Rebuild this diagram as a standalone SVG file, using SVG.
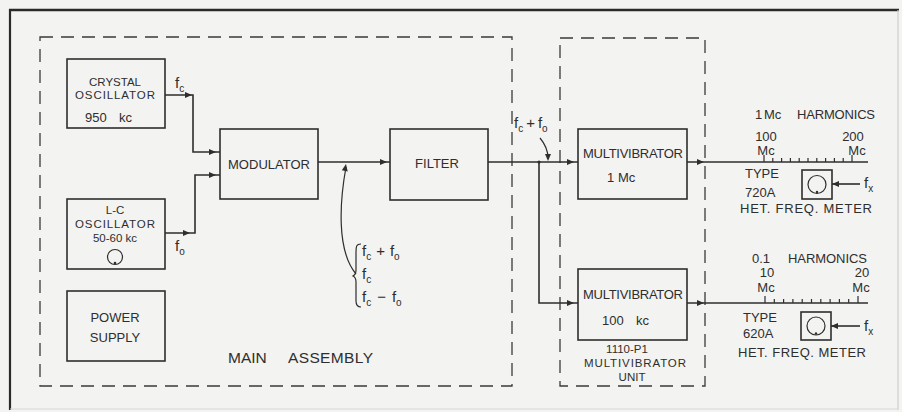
<svg xmlns="http://www.w3.org/2000/svg" width="902" height="412" viewBox="0 0 902 412">
<style>
  .bg{fill:#f3f3f1}
  .box{fill:none;stroke:#2e2e2e;stroke-width:1.6}
  .dash{fill:none;stroke:#3a3a3a;stroke-width:1.3;stroke-dasharray:13 8}
  .ln{fill:none;stroke:#2e2e2e;stroke-width:1.6}
  .thin{fill:none;stroke:#2e2e2e;stroke-width:1.2}
  text{font-family:"Liberation Sans",Arial,sans-serif;fill:#2e2e2e;font-size:13px}
  .sm{font-size:11.5px}
  .big{font-size:15.5px}
  .f{font-size:15px}
  .s{font-size:10px}
  .ah{fill:#2e2e2e}
</style>
<defs>
  <path id="ar" d="M0,0 L-7,-3 L-7,3 Z"/>
</defs>
<rect class="bg" x="0" y="0" width="902" height="412"/>
<!-- outer frame -->
<line x1="9" y1="10" x2="899" y2="10" stroke="#2a2a2a" stroke-width="2.6"/>
<line x1="10" y1="9" x2="10" y2="410" stroke="#2a2a2a" stroke-width="2.2"/>
<line x1="898" y1="10" x2="898" y2="410" stroke="#cfcfcf" stroke-width="1.2"/>
<line x1="10" y1="409" x2="898" y2="409" stroke="#d8d8d8" stroke-width="1.2"/>

<g id="main-assembly">
  <rect class="dash" x="40" y="37" width="472" height="349"/>
  <text class="big" x="228" y="363">MAIN</text>
  <text class="big" x="288" y="363" textLength="85">ASSEMBLY</text>
</g>
<g id="multivibrator-unit">
  <rect class="dash" x="560" y="38" width="145" height="348"/>
  <text class="sm" x="627" y="353" text-anchor="middle">1110-P1</text>
  <text class="sm" x="635" y="367" text-anchor="middle" textLength="102">MULTIVIBRATOR</text>
  <text class="sm" x="632" y="381" text-anchor="middle">UNIT</text>
</g>

<g id="crystal-oscillator">
  <rect class="box" x="67" y="59" width="98" height="69"/>
  <text class="sm" x="115" y="86" text-anchor="middle">CRYSTAL</text>
  <text class="sm" x="115" y="99" text-anchor="middle" textLength="80">OSCILLATOR</text>
  <text x="85" y="122">950</text>
  <text x="119" y="122">kc</text>
</g>
<g id="lc-oscillator">
  <rect class="box" x="67" y="199" width="98" height="70"/>
  <text class="sm" x="115" y="214" text-anchor="middle">L-C</text>
  <text class="sm" x="115" y="228" text-anchor="middle" textLength="80">OSCILLATOR</text>
  <text class="sm" x="115" y="242" text-anchor="middle">50-60 kc</text>
  <circle class="thin" cx="115" cy="257" r="7.5"/>
  <circle cx="115" cy="263" r="1.3" fill="#2e2e2e"/>
</g>
<g id="power-supply">
  <rect class="box" x="67" y="291" width="98" height="70"/>
  <text x="115" y="322" text-anchor="middle">POWER</text>
  <text x="115" y="342" text-anchor="middle">SUPPLY</text>
</g>
<g id="modulator">
  <rect class="box" x="220" y="129" width="98" height="70"/>
  <text x="269" y="169" text-anchor="middle" textLength="82">MODULATOR</text>
</g>
<g id="filter">
  <rect class="box" x="390" y="129" width="98" height="71"/>
  <text x="437" y="168" text-anchor="middle">FILTER</text>
</g>
<g id="multivibrator-1mc">
  <rect class="box" x="578" y="129" width="109" height="70"/>
  <text x="633" y="158" text-anchor="middle" textLength="100">MULTIVIBRATOR</text>
  <text x="607" y="182">1</text>
  <text x="618" y="182">Mc</text>
</g>
<g id="multivibrator-100kc">
  <rect class="box" x="578" y="269" width="109" height="71"/>
  <text x="633" y="299" text-anchor="middle" textLength="100">MULTIVIBRATOR</text>
  <text x="602" y="325">100</text>
  <text x="636" y="325">kc</text>
</g>

<g id="meter-720a">
  <text x="755" y="119">1</text>
  <text x="764" y="119">Mc</text>
  <text x="797" y="119" textLength="78">HARMONICS</text>
  <text x="766" y="141" text-anchor="middle">100</text>
  <text x="853" y="141" text-anchor="middle">200</text>
  <text x="766" y="155" text-anchor="middle">Mc</text>
  <text x="857" y="155" text-anchor="middle">Mc</text>
  <path class="thin" d="M764,162 v-7 M772.8,162 v-4 M781.6,162 v-4 M790.4,162 v-4 M799.2,162 v-4 M808,162 v-4 M816.8,162 v-4 M825.6,162 v-4 M834.4,162 v-4 M843.2,162 v-4 M852,162 v-7"/>
  <text x="745" y="178">TYPE</text>
  <text x="745" y="197">720A</text>
  <text x="740" y="213" textLength="132">HET.  FREQ.  METER</text>
  <rect class="box" x="802" y="170" width="30" height="29"/>
  <circle class="thin" cx="817" cy="184.5" r="9"/>
  <circle cx="817" cy="192" r="1.2" fill="#2e2e2e"/>
  <text class="f" x="864" y="188">f<tspan class="s" dy="4">x</tspan></text>
</g>
<g id="meter-620a">
  <text x="752" y="263">0.1</text>
  <text x="788" y="263" textLength="79">HARMONICS</text>
  <text x="767" y="277" text-anchor="middle">10</text>
  <text x="862" y="277" text-anchor="middle">20</text>
  <text x="766" y="292" text-anchor="middle">Mc</text>
  <text x="861" y="292" text-anchor="middle">Mc</text>
  <path class="thin" d="M765,303 v-7 M774.3,303 v-4 M783.6,303 v-4 M792.9,303 v-4 M802.2,303 v-4 M811.5,303 v-4 M820.8,303 v-4 M830.1,303 v-4 M839.4,303 v-4 M848.7,303 v-4 M858,303 v-7"/>
  <text x="743" y="322">TYPE</text>
  <text x="743" y="338">620A</text>
  <text x="738" y="357" textLength="128">HET.  FREQ.  METER</text>
  <rect class="box" x="801" y="312" width="30" height="28"/>
  <circle class="thin" cx="816" cy="326" r="9"/>
  <circle cx="816" cy="333.5" r="1.2" fill="#2e2e2e"/>
  <text class="f" x="864" y="331">f<tspan class="s" dy="4">x</tspan></text>
</g>

<g id="connectors">
  <path class="ln" d="M165,95 H193 V152 H220"/>
  <path class="ln" d="M165,233 H195 V175 H220"/>
  <path class="ln" d="M318,162 H390"/>
  <path class="ln" d="M488,162 H578"/>
  <path class="ln" d="M539,162 V303 H578"/>
  <path class="ln" d="M687,162 H868"/>
  <path class="ln" d="M687,303 H868"/>
  <path class="ln" d="M860,184 H832"/>
  <path class="ln" d="M860,326 H831"/>
  <path class="thin" d="M346,167 C340,200 336,250 356,274"/>
  <path class="thin" d="M540,138 C545,144 548,150 548,158"/>
  <use href="#ar" class="ah" transform="translate(192,95)"/>
  <use href="#ar" class="ah" transform="translate(190,233)"/>
  <use href="#ar" class="ah" transform="translate(216,152)"/>
  <use href="#ar" class="ah" transform="translate(216,175)"/>
  <use href="#ar" class="ah" transform="translate(387,162)"/>
  <use href="#ar" class="ah" transform="translate(574,162)"/>
  <use href="#ar" class="ah" transform="translate(574,303)"/>
  <use href="#ar" class="ah" transform="translate(704,162)"/>
  <use href="#ar" class="ah" transform="translate(704,303)"/>
  <use href="#ar" class="ah" transform="translate(832,184) rotate(180)"/>
  <use href="#ar" class="ah" transform="translate(831,326) rotate(180)"/>
  <use href="#ar" class="ah" transform="translate(346,164) rotate(-80)"/>
  <use href="#ar" class="ah" transform="translate(548,161) rotate(90)"/>
  <circle cx="539" cy="162" r="1.6" fill="#2e2e2e"/>
</g>

<g id="labels">
  <text class="f" x="175" y="88">f<tspan class="s" dy="4">c</tspan></text>
  <text class="f" x="175" y="251">f<tspan class="s" dy="4">o</tspan></text>
  <text class="f" x="514" y="128">f<tspan class="s" dy="4">c</tspan><tspan dy="-4" dx="3">+</tspan><tspan dx="3">f</tspan><tspan class="s" dy="4">o</tspan></text>
  <path class="thin" d="M361,244 C356,244 356,247 356,252 V270 C356,274 355,275 353,276 C355,277 356,278 356,282 V301 C356,305 357,307 361,307"/>
  <text class="f" x="362" y="256">f<tspan class="s" dy="4">c</tspan><tspan dy="-4" dx="5">+</tspan><tspan dx="5">f</tspan><tspan class="s" dy="4">o</tspan></text>
  <text class="f" x="362" y="279">f<tspan class="s" dy="4">c</tspan></text>
  <text class="f" x="362" y="302">f<tspan class="s" dy="4">c</tspan><tspan dy="-4" dx="6">−</tspan><tspan dx="6">f</tspan><tspan class="s" dy="4">o</tspan></text>
</g>
</svg>
